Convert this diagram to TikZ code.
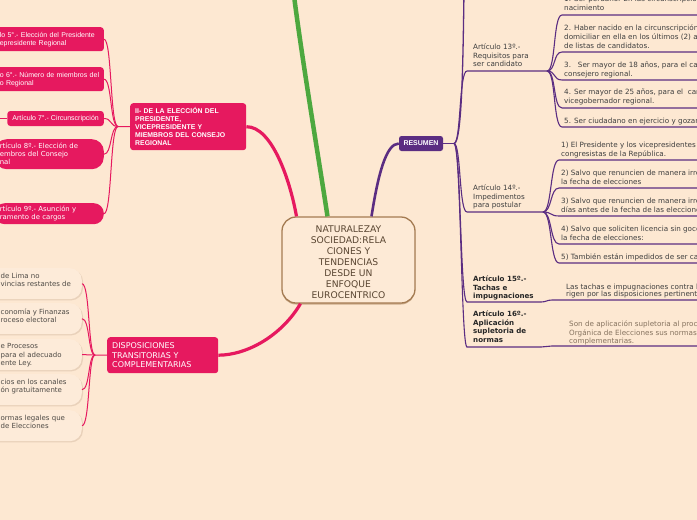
\documentclass[tikz,border=0pt]{standalone}
\usepackage{fontspec}
\setmainfont{DejaVu Sans}
\newfontfamily\vfont{DejaVu Sans}
\newfontfamily\afont{Liberation Sans}
\usetikzlibrary{shadows}
\definecolor{bgc}{HTML}{FDE8D2}
\definecolor{pinkc}{HTML}{E6195F}
\definecolor{purpc}{HTML}{5B2D82}
\definecolor{greenc}{HTML}{4DA83F}
\definecolor{brownc}{HTML}{A47B52}
\definecolor{ctextc}{HTML}{5A4632}
\definecolor{cfillc}{HTML}{FDEAD6}
\definecolor{lfillc}{HTML}{FDEBD9}
\definecolor{lshadc}{HTML}{E9D1BA}
\definecolor{gtext}{HTML}{3F3F3F}
\definecolor{ltextc}{HTML}{4E4A45}
\definecolor{softtext}{HTML}{86735F}
\begin{document}
\begin{tikzpicture}[x=1pt,y=-1pt,
  pinkline/.style={draw=pinkc,line width=1pt},
  purpline/.style={draw=purpc,line width=1.1pt},
  pbox/.style={fill=pinkc,text=white,rounded corners=3pt,inner xsep=5pt,inner ysep=0pt,align=left},
  pboxA/.style={pbox,font=\afont\fontsize{7}{8}\selectfont},
  pboxV/.style={pbox,font=\vfont\fontsize{6.9}{8}\selectfont},
  lbox/.style={fill=lfillc,rounded corners=12pt,minimum width=110pt,minimum height=31pt,inner sep=0pt,
     drop shadow={shadow xshift=1.2pt,shadow yshift=-1.2pt,fill=lshadc,opacity=1}},
  ltext/.style={anchor=north west,inner sep=0pt,align=left,text=ltextc,font=\vfont\fontsize{7}{8.5}\selectfont},
  arttext/.style={anchor=north west,inner sep=0pt,align=left,text=gtext,font=\vfont\fontsize{7.2}{8.6}\selectfont},
  artbold/.style={anchor=north west,inner sep=0pt,align=left,text=black!85,font=\vfont\bfseries\fontsize{7.1}{8.8}\selectfont},
  kidtext/.style={anchor=north west,inner sep=0pt,align=left,text=gtext,font=\vfont\fontsize{7.2}{8.8}\selectfont}
]
\useasboundingbox (0,0) rectangle (697,520);
\fill[bgc] (0,0) rectangle (697,520);
\begin{scope}
\clip (0,0) rectangle (697,520);

% ---------- central node ----------
\node[draw=brownc,line width=1.3pt,fill=cfillc,rounded corners=14pt,minimum width=133pt,minimum height=86pt,inner sep=0pt,
  drop shadow={shadow xshift=0pt,shadow yshift=-1.5pt,fill=brownc,opacity=0.55}] (c) at (348.5,260) {};
\node[align=center,inner sep=0pt,text=ctextc,font=\vfont\fontsize{9.2}{11}\selectfont] (ct) at (348.5,262)
  {NATURALEZAY\\SOCIEDAD:RELA\\CIONES Y\\TENDENCIAS\\DESDE UN\\ENFOQUE\\EUROCENTRICO};

% ---------- main branches ----------
\coordinate (gtop) at (293,-12);
\draw[greenc,line width=4.5pt] ([xshift=-21pt]c.north) .. controls (319,160) and (302,60) .. (gtop);

\node[pbox,anchor=north west,minimum width=116pt,minimum height=47pt,text width=106pt,
  font=\afont\bfseries\fontsize{6.9}{8.1}\selectfont] (n2) at (130,103)
  {II- DE LA ELECCIÓN DEL\\PRESIDENTE,\\VICEPRESIDENTE Y\\MIEMBROS DEL CONSEJO\\REGIONAL};
\draw[pinkc,line width=3.2pt] ([xshift=-52pt]c.north) .. controls (290,180) and (272,126.5) .. (n2.east);

\node[pbox,anchor=north west,minimum width=111pt,minimum height=36pt,text width=101pt,
  font=\vfont\fontsize{8}{9.5}\selectfont] (disp) at (107,337)
  {DISPOSICIONES\\TRANSITORIAS Y\\COMPLEMENTARIAS};
\draw[pinkc,line width=3.2pt] ([xshift=-48pt]c.south) .. controls (282,335) and (248,355) .. (disp.east);

\node[fill=purpc,text=white,rounded corners=2.5pt,minimum width=44pt,minimum height=15pt,inner sep=0pt,
  font=\afont\bfseries\fontsize{7}{8}\selectfont] (res) at (421,143.5) {RESUMEN};
\draw[purpc,line width=2.6pt] ([xshift=23pt]c.north) .. controls (378,175) and (386,143.5) .. (res.west);

% ---------- left pink children ----------
\node[pboxA,anchor=north east,minimum height=24pt,text width=99pt] (b5) at (104,27)
  {\mbox{lo 5°.- Elección del Presidente}\\epresidente Regional};
\node[pboxA,anchor=north east,minimum height=24pt,text width=99pt] (b6) at (104,67)
  {\mbox{o 6°.- Número de miembros del}\\o Regional};
\node[pboxA,anchor=east,minimum height=15pt] (b7) at (104,118.5) {Artículo 7°.- Circunscripción};
\node[pboxV,anchor=north east,minimum height=30pt,text width=99pt,rounded corners=12pt] (b8) at (104,139)
  {rtículo 8º.- Elección de\\embros del Consejo\\nal};
\node[pboxV,anchor=north east,minimum height=21pt,text width=99pt,rounded corners=10pt] (b9) at (104,203)
  {rtículo 9º.- Asunción y\\ramento de cargos};
\coordinate (pj) at (118,126.5);
\coordinate (b7l) at (-5,118.5);
\draw[pinkline] (n2.west) -- (pj);
\foreach \b in {b5,b6,b7,b8,b9}{
  \draw[pinkline] (pj) .. controls (110,126.5) and (112,0 |- \b.east) .. (\b.east);
}
\draw[pinkline] (b7.west) -- (b7l);

% ---------- disposiciones children ----------
\node[lbox,anchor=north east] (d1) at (82,268) {};
\node[lbox,anchor=north east] (d2) at (82,303) {};
\node[lbox,anchor=north east] (d3) at (82,339) {};
\node[lbox,anchor=north east] (d4) at (82,374) {};
\node[lbox,anchor=north east] (d5) at (82,410) {};
\node[ltext] (d1t) at (0.5,272.5) {de Lima no\\vincias restantes de};
\node[ltext] (d2t) at (0.5,308.5) {conomía y Finanzas\\roceso electoral};
\node[ltext] (d3t) at (0.5,343.5) {e Procesos\\para el adecuado\\ente Ley.};
\node[ltext] (d4t) at (0.5,378.5) {cios en los canales\\ón gratuitamente};
\node[ltext] (d5t) at (0.5,414.5) {ormas legales que\\de Elecciones};
\coordinate (dj) at (95,355);
\draw[pinkline] (disp.west) -- (dj);
\foreach \b in {d1,d2,d3,d4,d5}{
  \draw[pinkline] (dj) .. controls (88,355) and (90,0 |- \b.east) .. (\b.east);
}

% ---------- resumen subtree ----------
\coordinate (rj) at (454,143.5);
\coordinate (ttop) at (464,-8);
\coordinate (a13l) at (467,71);  \coordinate (a13r) at (547,71);
\coordinate (a14l) at (467,212); \coordinate (a14r) at (543,212);
\coordinate (a15l) at (467,302); \coordinate (a15r) at (541,302);
\coordinate (a16l) at (467,347); \coordinate (a16r) at (541,347);

\draw[purpc,line width=1.8pt] (res.east) -- (rj);
\draw[purpc,line width=1.3pt] (rj) .. controls (462,143.5) and (463,60) .. (ttop);
\draw[purpline] (rj) .. controls (461,143.5) and (459,71) .. (a13l) -- (a13r);
\draw[purpline] (rj) .. controls (461,143.5) and (459,212) .. (a14l) -- (a14r);
\draw[purpline] (rj) .. controls (461,143.5) and (460,302) .. (a15l) -- (a15r);
\draw[purpline] (rj) .. controls (461,143.5) and (461,347) .. (a16l) -- (a16r);

\node[arttext] (a13t) at (473,43.7) {Artículo 13º.-\\Requisitos para\\ser candidato};
\node[arttext] (a14t) at (473,184.7) {Artículo 14º.-\\Impedimentos\\para postular};
\node[artbold] (a15t) at (473,275.5) {Artículo 15º.-\\Tachas e\\impugnaciones};
\node[artbold] (a16t) at (473,310.5) {Artículo 16º.-\\Aplicación\\supletoria de\\normas};

% Art 13 children
\node[kidtext] (k1) at (564,-4.1) {1. Ser peruano. En las circunscripción de su\\nacimiento};
\node[kidtext] (k2) at (564,24.7) {2. Haber nacido en la circunscripción electoral o\\domiciliar en ella en los últimos (2) años\\de listas de candidatos.};
\node[kidtext] (k3) at (564,61.5) {3.\ \ \ Ser mayor de 18 años, para el caso de\\consejero regional.};
\node[kidtext] (k4) at (564,88.7) {4. Ser mayor de 25 años, para el \ cargo de\\vicegobernador regional.};
\node[kidtext] (k5) at (564,117.5) {5. Ser ciudadano en ejercicio y gozar del derecho};
\foreach \i/\y in {1/15,2/52,3/80,4/108,5/127}{
  \coordinate (k\i l) at (562,\y);
  \coordinate (k\i r) at (705,\y);
  \draw[purpline] (a13r) .. controls (556,71) and (553,\y) .. (k\i l) -- (k\i r);
}

% Art 14 children
\node[kidtext] (m1) at (561,141.7) {1) El Presidente y los vicepresidentes de la República,\\congresistas de la República.};
\node[kidtext] (m2) at (561,169.7) {2) Salvo que renuncien de manera irrevocable antes de\\la fecha de elecciones};
\node[kidtext] (m3) at (561,197.7) {3) Salvo que renuncien de manera irrevocable sesenta\\días antes de la fecha de las elecciones};
\node[kidtext] (m4) at (561,225.7) {4) Salvo que soliciten licencia sin goce de haber antes de\\la fecha de elecciones:};
\node[kidtext] (m5) at (561,253.7) {5) También están impedidos de ser candidatos};
\foreach \i/\y in {1/160,2/188,3/216,4/244,5/263}{
  \coordinate (m\i l) at (559,\y);
  \coordinate (m\i r) at (705,\y);
  \draw[purpline] (a14r) .. controls (552,212) and (550,\y) .. (m\i l) -- (m\i r);
}

% Art 15 / 16 children
\node[kidtext,font=\vfont\fontsize{7.2}{7.8}\selectfont] (e15t) at (566,283.4)
  {Las tachas e impugnaciones contra los candidatos se\\rigen por las disposiciones pertinentes de la Ley};
\node[kidtext,text=softtext,font=\vfont\fontsize{7.2}{8.5}\selectfont] (e16t) at (569,320.7)
  {Son de aplicación supletoria al proceso electoral regional, la Ley\\Orgánica de Elecciones sus normas reglamentarias y\\complementarias.};
\coordinate (e15l) at (552,300); \coordinate (e15r) at (705,300);
\coordinate (e16l) at (552,346); \coordinate (e16r) at (705,346);
\draw[purpline] (a15r) .. controls (546,302) and (547,300) .. (e15l) -- (e15r);
\draw[purpline] (a16r) .. controls (546,347) and (547,346) .. (e16l) -- (e16r);
\end{scope}
\end{tikzpicture}
\end{document}
